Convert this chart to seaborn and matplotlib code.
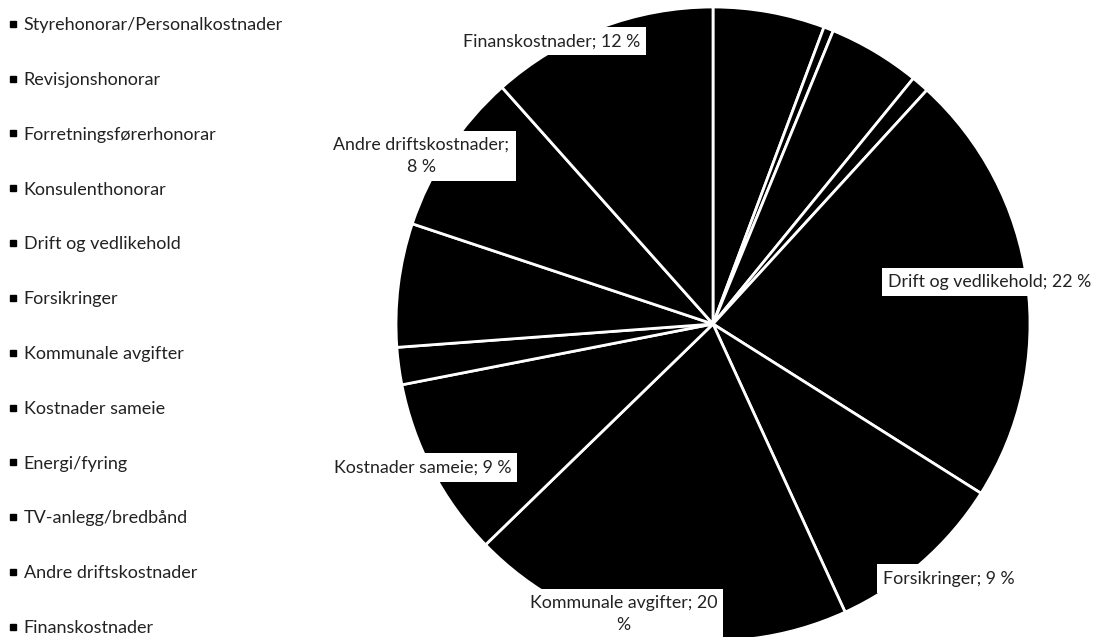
import matplotlib
matplotlib.use("Agg")
import matplotlib.pyplot as plt
import seaborn as sns
from matplotlib.lines import Line2D

# Data (clockwise from 12 o'clock)
categories = [
    "Styrehonorar/Personalkostnader",
    "Revisjonshonorar",
    "Forretningsførerhonorar",
    "Konsulenthonorar",
    "Drift og vedlikehold",
    "Forsikringer",
    "Kommunale avgifter",
    "Kostnader sameie",
    "Energi/fyring",
    "TV-anlegg/bredbånd",
    "Andre driftskostnader",
    "Finanskostnader",
]
shares = [5.7, 0.5, 4.7, 0.9, 22.2, 9.2, 19.6, 9.2, 1.9, 6.3, 8.3, 11.6]

# Only these slices carry a data label in the original
labelled = ["Drift og vedlikehold", "Forsikringer", "Kommunale avgifter",
            "Kostnader sameie", "Andre driftskostnader", "Finanskostnader"]

# label placement (axes data coords, pie radius = 1) and line wrapping
label_pos = {
    "Finanskostnader": (-0.51, 0.892),
    "Andre driftskostnader": (-0.92, 0.53),
    "Drift og vedlikehold": (0.872, 0.133),
    "Forsikringer": (0.745, -0.803),
    "Kostnader sameie": (-0.917, -0.452),
    "Kommunale avgifter": (-0.283, -0.915),
}
wrap = {"Andre driftskostnader": "Andre driftskostnader;\n{p} %",
        "Kommunale avgifter": "Kommunale avgifter; {p}\n%"}

sns.set_theme(style="white")
plt.rcParams["font.family"] = ["Lato", "DejaVu Sans"]

W, H = 1099, 637
fig = plt.figure(figsize=(W / 100, H / 100), dpi=100)
fig.patch.set_facecolor("white")

cx, cy, r = 713, 324, 317
ax = fig.add_axes([(cx - r) / W, (H - cy - r) / H, 2 * r / W, 2 * r / H])
ax.axis("off")

wedges, _ = ax.pie(shares, startangle=90, counterclock=False, radius=1,
                   colors=["black"] * len(shares),
                   wedgeprops=dict(edgecolor="white", linewidth=2))
ax.set_xlim(-1, 1)
ax.set_ylim(-1, 1)
ax.set_aspect("equal")

total = sum(shares)
for name, val in zip(categories, shares):
    if name not in labelled:
        continue
    pct = round(val / total * 100)
    txt = wrap.get(name, "{n}; {p} %").format(n=name, p=pct)
    x, y = label_pos[name]
    ax.text(x, y, txt, ha="center", va="center", fontsize=12.8,
            color="#222222", linespacing=1.5,
            bbox=dict(boxstyle="square,pad=0.35", facecolor="white",
                      edgecolor="none"))

handles = [Line2D([], [], marker="s", color="black", linestyle="",
                  markersize=5) for _ in categories]
fig.legend(handles, categories, loc="upper left",
           bbox_to_anchor=(-0.004, 0.993), frameon=False, fontsize=13,
           labelspacing=2.15, handlelength=0.5, handletextpad=0.35,
           borderaxespad=0.3, labelcolor="#222222")

fig.savefig("out.png", dpi=100, facecolor="white")
